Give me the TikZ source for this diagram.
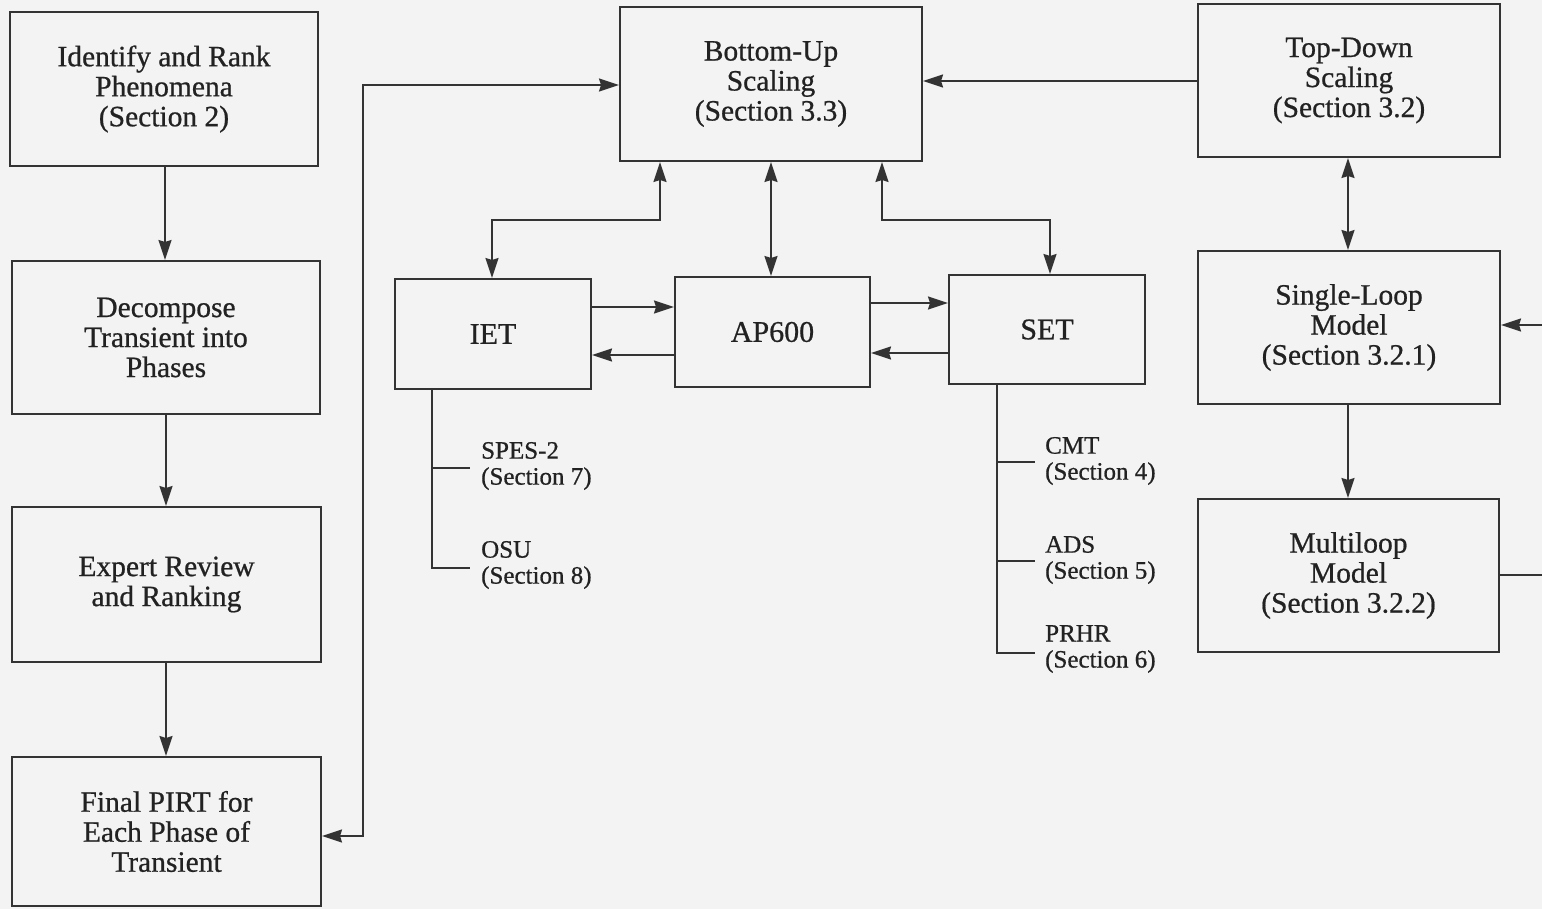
\documentclass[tikz,border=0pt]{standalone}
\usepackage{fontspec}
\setmainfont{Liberation Serif}[FakeBold=0.7,BoldFont=*]
\usetikzlibrary{arrows.meta}
\definecolor{bg}{HTML}{F3F3F3}
\definecolor{ink}{HTML}{333333}
\definecolor{txt}{HTML}{222222}
\begin{document}
\begin{tikzpicture}[x=1pt,y=-1pt,
  >={Stealth[length=20pt,width=13pt,inset=2pt]},
  box/.style={draw=ink,line width=2pt,rectangle,inner sep=0pt,align=center,text=txt,
    font=\bfseries\fontsize{29.5}{30}\selectfont},
  bigbox/.style={box,font=\bfseries\fontsize{30}{32}\selectfont},
  lab/.style={anchor=west,inner sep=0pt,align=left,text=txt,font=\bfseries\fontsize{25}{26}\selectfont},
  conn/.style={draw=ink,line width=2pt}]
\fill[bg] (0,0) rectangle (1542,909);
\useasboundingbox (0,0) rectangle (1542,909);
\clip (0,0) rectangle (1542,909);
% left column
\node[box,minimum width=308pt,minimum height=154pt] (p1) at (164,89) {Identify and Rank\\Phenomena\\(Section 2)};
\node[box,minimum width=308pt,minimum height=153pt] (p2) at (166,337.5) {Decompose\\Transient into\\Phases};
\node[box,minimum width=309pt,minimum height=155pt] (p3) at (166.5,584.5) {Expert Review\\and Ranking};
\node[box,minimum width=309pt,minimum height=149pt] (p4) at (166.5,831.5) {Final PIRT for\\Each Phase of\\Transient};
% top row
\node[box,minimum width=302pt,minimum height=154pt] (bu) at (771,84) {Bottom-Up\\Scaling\\(Section 3.3)};
\node[box,minimum width=302pt,minimum height=153pt] (td) at (1349,80.5) {Top-Down\\Scaling\\(Section 3.2)};
\node[box,minimum width=302pt,minimum height=153pt] (sl) at (1349,327.5) {Single-Loop\\Model\\(Section 3.2.1)};
\node[box,minimum width=301pt,minimum height=153pt] (ml) at (1348.5,575.5) {Multiloop\\Model\\(Section 3.2.2)};
% middle row
\node[bigbox,minimum width=196pt,minimum height=110pt] (iet) at (493,334) {IET};
\node[bigbox,minimum width=195pt,minimum height=110pt] (ap) at (772.5,332) {AP600};
\node[bigbox,minimum width=196pt,minimum height=109pt] (set) at (1047,329.5) {SET};
% tree labels
\node[lab] (spes) at (481,466) {SPES-2\\(Section 7)};
\node[lab] (osu) at (481,565) {OSU\\(Section 8)};
\node[lab] (cmt) at (1045,461) {CMT\\(Section 4)};
\node[lab] (ads) at (1045,560) {ADS\\(Section 5)};
\node[lab] (prhr) at (1045,649) {PRHR\\(Section 6)};
% left column arrows
\draw[conn,->] (p1.south -| 165,0) -- (p2.north -| 165,0);
\draw[conn,->] (p2.south -| 166,0) -- (p3.north -| 166,0);
\draw[conn,->] (p3.south -| 166,0) -- (p4.north -| 166,0);
% Final PIRT <-> Bottom-Up
\draw[conn,<->] (p4.east |- 0,836) -- (363,836) |- (bu.west |- 0,85);
% Top-Down -> Bottom-Up
\draw[conn,->] (td.west |- 0,81) -- (bu.east |- 0,81);
% Top-Down <-> Single-Loop, Single-Loop -> Multiloop
\draw[conn,<->] (td.south -| 1348,0) -- (sl.north -| 1348,0);
\draw[conn,->] (sl.south -| 1348,0) -- (ml.north -| 1348,0);
% Multiloop feedback leaving the picture
\draw[conn,->] (ml.east |- 0,575) -- (1575,575) |- (sl.east |- 0,325);
% Bottom-Up to the three test boxes
\draw[conn,<->] (bu.south -| 660,0) -- (660,220) -| (iet.north -| 492,0);
\draw[conn,<->] (bu.south -| 771,0) -- (ap.north -| 771,0);
\draw[conn,<->] (bu.south -| 882,0) -- (882,220) -| (set.north -| 1050,0);
% horizontal exchanges
\draw[conn,->] (iet.east |- 0,307) -- (ap.west |- 0,307);
\draw[conn,->] (ap.west |- 0,355) -- (iet.east |- 0,355);
\draw[conn,->] (ap.east |- 0,303) -- (set.west |- 0,303);
\draw[conn,->] (set.west |- 0,353) -- (ap.east |- 0,353);
% trees
\draw[conn] (iet.south -| 432,0) |- ([xshift=-11pt]osu.west |- 0,568);
\draw[conn] (432,468) -- ([xshift=-11pt]spes.west |- 0,468);
\draw[conn] (set.south -| 997,0) |- ([xshift=-10pt]prhr.west |- 0,653);
\draw[conn] (997,462) -- ([xshift=-10pt]cmt.west |- 0,462);
\draw[conn] (997,561) -- ([xshift=-10pt]ads.west |- 0,561);
\end{tikzpicture}
\end{document}
